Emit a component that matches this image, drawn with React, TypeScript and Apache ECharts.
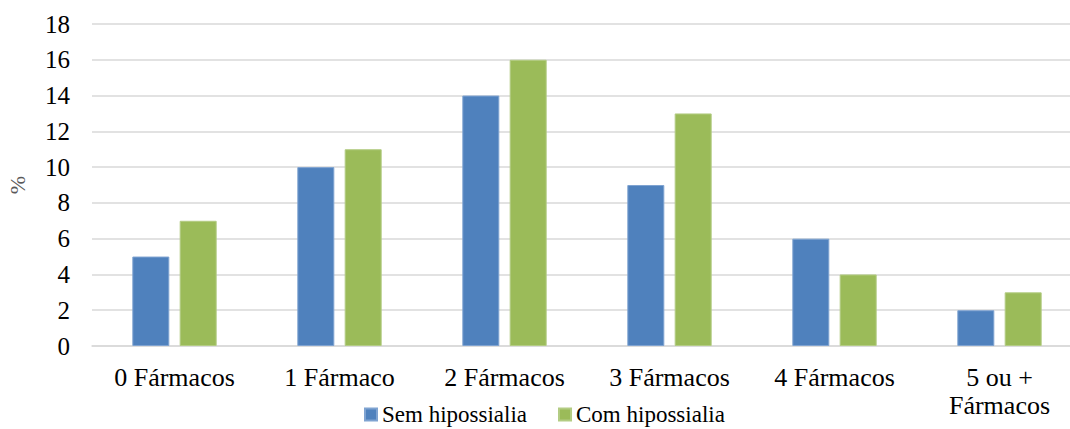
import React, { useEffect, useRef } from "react";
import * as echarts from "echarts";

const categories = ["0 Fármacos", "1 Fármaco", "2 Fármacos", "3 Fármacos", "4 Fármacos", "5 ou +\nFármacos"];
const semHipossialia = [5, 10, 14, 9, 6, 2];
const comHipossialia = [7, 11, 16, 13, 4, 3];
const seriesNames = ["Sem hipossialia", "Com hipossialia"];

const FONT = "Liberation Serif";

export default function App() {
  const ref = useRef<HTMLDivElement>(null);

  useEffect(() => {
    if (!ref.current) return;
    const chart = echarts.init(ref.current, undefined, { renderer: "svg" });
    chart.setOption({
      animation: false,
      textStyle: { fontFamily: FONT },
      grid: {
        left: 92,
        width: 990,
        top: 24,
        bottom: 83,
        containLabel: false,
        outerBoundsMode: "none",
      },
      legend: {
        data: seriesNames,
        top: 403,
        left: 364,
        padding: 0,
        itemWidth: 12,
        itemHeight: 12,
        itemGap: 31,
        icon: "rect",
        textStyle: { fontFamily: FONT, fontSize: 23, color: "#000" },
      },
      xAxis: {
        type: "category",
        data: categories,
        axisLine: { show: true, lineStyle: { color: "#d9d9d9", width: 1.5 } },
        axisTick: { show: false },
        axisLabel: {
          fontFamily: FONT,
          fontSize: 26,
          color: "#000",
          margin: 17,
          lineHeight: 28,
          interval: 0,
        },
      },
      yAxis: {
        type: "value",
        min: 0,
        max: 18,
        interval: 2,
        name: "%",
        nameLocation: "middle",
        nameGap: 64,
        nameRotate: 90,
        nameTextStyle: { fontFamily: FONT, fontSize: 22, color: "#595959" },
        axisLine: { show: false },
        axisTick: { show: false },
        splitLine: { lineStyle: { color: "#d9d9d9", width: 1.5 } },
        axisLabel: { fontFamily: FONT, fontSize: 25, color: "#000", margin: 22 },
      },
      series: [
        {
          name: seriesNames[0],
          type: "bar",
          data: semHipossialia,
          barWidth: 37,
          barGap: "28%",
          itemStyle: { color: "#4f81bd", borderColor: "#7fa3d1", borderWidth: 1 },
        },
        {
          name: seriesNames[1],
          type: "bar",
          data: comHipossialia,
          barWidth: 37,
          barGap: "28%",
          itemStyle: { color: "#9bbb59", borderColor: "#b3cc83", borderWidth: 1 },
        },
      ],
    });
    return () => chart.dispose();
  }, []);

  return (
    <div
      ref={ref}
      style={{ position: "absolute", left: 0, top: 0, width: 1070, height: 429 }}
    />
  );
}
